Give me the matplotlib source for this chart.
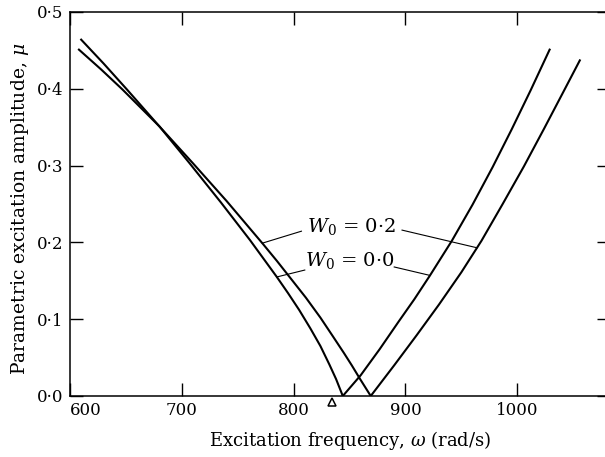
import matplotlib
matplotlib.use("Agg")
import matplotlib.pyplot as plt

# ── DATA ───────────────────────────────────────────────────
# stability boundary, W0 = 0.0
w00_left_x   = [610, 630, 651, 680, 707, 735, 761, 785, 795, 805, 815, 824, 832, 838, 844]
w00_left_mu  = [0.464, 0.433, 0.399, 0.351, 0.303, 0.252, 0.203, 0.155, 0.134, 0.112,
                0.088, 0.065, 0.041, 0.022, 0.0]
w00_right_x  = [844, 860, 877, 894, 908, 922, 941.5, 960, 978, 995, 1012, 1029]
w00_right_mu = [0.0, 0.027, 0.061, 0.097, 0.126, 0.157, 0.202, 0.249, 0.298, 0.347, 0.398, 0.451]

# stability boundary, W0 = 0.2
w02_left_x   = [608, 628, 647, 680, 710, 740, 772, 785, 798, 811, 824, 835, 845, 852, 859.5, 869]
w02_left_mu  = [0.451, 0.425, 0.399, 0.351, 0.303, 0.254, 0.199, 0.176, 0.152, 0.128,
                0.102, 0.078, 0.056, 0.040, 0.022, 0.0]
w02_right_x  = [869, 890, 910, 930, 950, 968, 987, 1006, 1024, 1042, 1056]
w02_right_mu = [0.0, 0.040, 0.079, 0.119, 0.161, 0.202, 0.250, 0.299, 0.348, 0.398, 0.437]

# curve labels and their leader lines (data coords)
label_text = [r'$W_0$ = 0·2', r'$W_0$ = 0·0']
label_x    = [852, 850]
label_y    = [0.213, 0.169]
leaders = [
    [(807, 0.2146), (772, 0.199)],
    [(897, 0.216), (964, 0.193)],
    [(810, 0.164), (785, 0.155)],
    [(890, 0.168), (922, 0.157)],
]

# natural frequency marker below the axis
marker_x  = 834.4
marker_mu = -0.008

x_ticks  = [600, 700, 800, 900, 1000]
y_ticks  = [0.0, 0.1, 0.2, 0.3, 0.4, 0.5]
y_labels = ['0·0', '0·1', '0·2', '0·3', '0·4', '0·5']

# ── PLOT ───────────────────────────────────────────────────
plt.rcParams['font.family'] = ['DejaVu Serif']
plt.rcParams['mathtext.fontset'] = 'dejavuserif'

fig = plt.figure(figsize=(6.05, 4.57), dpi=100)
# right spine sits just outside the picture, as in the scan
ax = fig.add_axes([70 / 605, 61 / 457, 540 / 605, 384 / 457])

for xs, ys in [(w00_left_x, w00_left_mu), (w00_right_x, w00_right_mu),
               (w02_left_x, w02_left_mu), (w02_right_x, w02_right_mu)]:
    ax.plot(xs, ys, color='black', linewidth=1.5, solid_joinstyle='round')

for (x0, y0), (x1, y1) in leaders:
    ax.plot([x0, x1], [y0, y1], color='black', linewidth=0.8)

for t, lx, ly in zip(label_text, label_x, label_y):
    ax.text(lx, ly, t, fontsize=14, ha='center', va='baseline')

ax.plot([marker_x], [marker_mu], marker='^', markersize=6, markerfacecolor='white',
        markeredgecolor='black', markeredgewidth=1.1, clip_on=False, zorder=5)

ax.set_xlim(600, 1083)
ax.set_ylim(0, 0.5)
ax.set_xticks(x_ticks)
ax.set_yticks(y_ticks)
ax.set_yticklabels(y_labels)
ax.tick_params(direction='in', length=9.5, width=1.0, top=True, right=True,
               labelsize=12, pad=4.5)
for sp in ax.spines.values():
    sp.set_linewidth(1.1)
ax.get_xticklabels()[0].set_horizontalalignment('left')

fig.text(350.5 / 605, 1 - 440 / 457, r'Excitation frequency, $\omega$ (rad/s)',
         fontsize=13, ha='center', va='center')
fig.text(20 / 605, 1 - 209 / 457, r'Parametric excitation amplitude, $\mu$',
         fontsize=13.5, ha='center', va='center', rotation=90)

fig.savefig('out.png', dpi=100)
